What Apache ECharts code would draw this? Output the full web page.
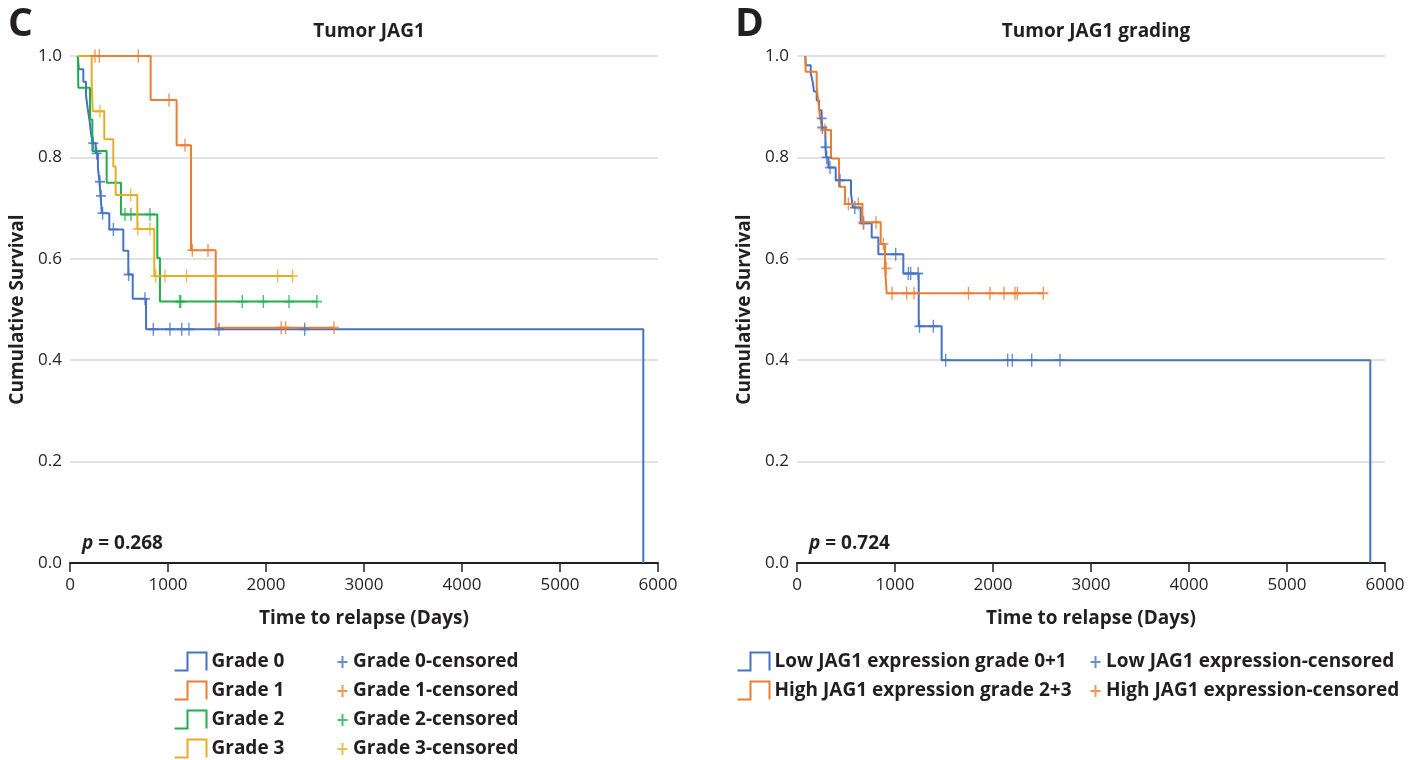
<!DOCTYPE html>
<html><head><meta charset="utf-8">
<script src="https://cdn.jsdelivr.net/npm/echarts@6/dist/echarts.min.js"></script>
<style>html,body{margin:0;padding:0;background:#fff}#c{width:1423px;height:760px}</style>
</head><body><div id="c"></div>
<script>
// ---------- DATA ----------
const xTicks = [0, 1000, 2000, 3000, 4000, 5000, 6000];
// Panel C: Tumor JAG1
const g0Time = [80, 90, 136, 163, 180, 200, 215, 232, 262, 285, 300, 312, 325, 401, 544, 595, 640, 776, 5850];
const g0Surv = [1.0, 0.974, 0.949, 0.923, 0.897, 0.872, 0.846, 0.828, 0.808, 0.780, 0.752, 0.724, 0.690, 0.658, 0.616, 0.569, 0.521, 0.461, 0.0];
const g0Cens = [238, 272, 306, 316, 333, 442, 598, 765, 850, 1020, 1140, 1214, 1520, 2395];
const g1Time = [200, 823, 1088, 1235, 1487, 2694];
const g1Surv = [1.0, 0.913, 0.824, 0.617, 0.464, 0.464];
const g1Cens = [255, 299, 697, 1010, 1173, 1248, 1408, 2155, 2200, 2694];
const g2Time = [80, 85, 204, 228, 374, 520, 891, 918, 2520];
const g2Surv = [1.0, 0.9375, 0.875, 0.8125, 0.75, 0.6875, 0.6016, 0.5156, 0.5156];
const g2Cens = [561, 622, 816, 1118, 1130, 1758, 1973, 2235, 2520];
const g3Time = [80, 221, 232, 350, 442, 466, 687, 860, 2272];
const g3Surv = [1.0, 0.946, 0.891, 0.836, 0.782, 0.726, 0.659, 0.566, 0.566];
const g3Cens = [306, 619, 692, 816, 875, 969, 1190, 2119, 2272];
// Panel D: Tumor JAG1 grading
const lowTime = [85, 89, 140, 160, 173, 201, 225, 250, 255, 290, 298, 320, 395, 551, 570, 650, 762, 830, 1085, 1242, 1476, 5850];
const lowSurv = [1.0, 0.982, 0.966, 0.949, 0.930, 0.912, 0.893, 0.877, 0.859, 0.820, 0.800, 0.780, 0.755, 0.729, 0.701, 0.670, 0.642, 0.609, 0.571, 0.467, 0.400, 0.0];
const lowCens = [252, 258, 293, 303, 337, 439, 590, 680, 1007, 1136, 1160, 1236, 1250, 1391, 1517, 2150, 2197, 2395, 2684];
const highTime = [85, 89, 201, 218, 232, 245, 255, 347, 429, 490, 667, 854, 898, 915, 2513];
const highSurv = [1.0, 0.969, 0.939, 0.909, 0.884, 0.869, 0.854, 0.798, 0.742, 0.708, 0.672, 0.629, 0.581, 0.532, 0.532];
const highCens = [286, 524, 626, 677, 806, 881, 910, 970, 1119, 1194, 1750, 1969, 2112, 2224, 2248, 2513];

const namesC = ['Grade 0', 'Grade 1', 'Grade 2', 'Grade 3'];
const censNamesC = ['Grade 0-censored', 'Grade 1-censored', 'Grade 2-censored', 'Grade 3-censored'];
const namesD = ['Low JAG1 expression grade 0+1', 'High JAG1 expression grade 2+3'];
const censNamesD = ['Low JAG1 expression-censored', 'High JAG1 expression-censored'];

// ---------- STYLE ----------
const COLORS = ['#4472C4', '#ED7D31', '#22AE4B', '#E6AE24'];
const FONT = '"Open Sans", sans-serif';
const TXT = '#231F20';
const STEP_ICON = 'path://M0,18 L13,18 L13,0 L32,0 L32,18';
const PLUS = 'path://M5,0 L5,12 M0,6 L10,6';

function pairs(t, s) { return t.map((v, i) => [v, s[i]]); }
function survAt(t, s, x) { let v = s[0]; for (let i = 0; i < t.length; i++) { if (t[i] <= x) v = s[i]; } return v; }
function censPts(t, s, c) { return c.map(x => [x, survAt(t, s, x)]); }

function lineSeries(name, t, s, color, idx) {
  return { type: 'line', name, xAxisIndex: idx, yAxisIndex: idx, step: 'end', showSymbol: false, symbol: 'none',
    data: pairs(t, s), lineStyle: { color, width: 2 }, itemStyle: { color }, z: 3 };
}
function censSeries(name, t, s, c, color, idx) {
  return { type: 'scatter', name, xAxisIndex: idx, yAxisIndex: idx, symbol: PLUS, symbolSize: [10, 13],
    data: censPts(t, s, c), itemStyle: { color: 'none', borderColor: color, borderWidth: 1.6 }, z: 4 };
}

const grids = [
  { left: 70, right: 765, top: 56, bottom: 197 },
  { left: 797, right: 38, top: 56, bottom: 197 }
];
function xAx(i) {
  return { type: 'value', gridIndex: i, min: 0, max: 6000, interval: 1000,
    name: 'Time to relapse (Days)', nameLocation: 'middle', nameGap: 46,
    nameTextStyle: { fontFamily: FONT, fontWeight: 'bold', fontSize: 19, color: TXT },
    axisLine: { lineStyle: { color: '#231F20', width: 2 } },
    axisTick: { inside: false, length: 9, lineStyle: { color: '#231F20', width: 1.5 } },
    axisLabel: { fontFamily: FONT, fontSize: 17, color: TXT, margin: 14, formatter: v => String(v) },
    splitLine: { show: false } };
}
function yAx(i) {
  return { type: 'value', gridIndex: i, min: 0, max: 1, interval: 0.2,
    name: 'Cumulative Survival', nameLocation: 'middle', nameGap: 43, nameRotate: 90,
    nameTextStyle: { fontFamily: FONT, fontWeight: 'bold', fontSize: 19, color: TXT },
    axisLine: { show: false }, axisTick: { show: false },
    axisLabel: { fontFamily: FONT, fontSize: 17, color: TXT, margin: 8, formatter: v => v.toFixed(1) },
    splitLine: { show: true, lineStyle: { color: '#D9D9D9', width: 1.5 } } };
}

const series = [
  lineSeries(namesC[0], g0Time, g0Surv, COLORS[0], 0),
  lineSeries(namesC[1], g1Time, g1Surv, COLORS[1], 0),
  lineSeries(namesC[2], g2Time, g2Surv, COLORS[2], 0),
  lineSeries(namesC[3], g3Time, g3Surv, COLORS[3], 0),
  censSeries(censNamesC[0], g0Time, g0Surv, g0Cens, COLORS[0], 0),
  censSeries(censNamesC[1], g1Time, g1Surv, g1Cens, COLORS[1], 0),
  censSeries(censNamesC[2], g2Time, g2Surv, g2Cens, COLORS[2], 0),
  censSeries(censNamesC[3], g3Time, g3Surv, g3Cens, COLORS[3], 0),
  lineSeries(namesD[0], lowTime, lowSurv, COLORS[0], 1),
  lineSeries(namesD[1], highTime, highSurv, COLORS[1], 1),
  censSeries(censNamesD[0], lowTime, lowSurv, lowCens, COLORS[0], 1),
  censSeries(censNamesD[1], highTime, highSurv, highCens, COLORS[1], 1)
];

const legText = { fontFamily: FONT, fontWeight: 'bold', fontSize: 19, color: TXT, lineHeight: 20 };
function stepLeg(names, left, top) {
  return { orient: 'vertical', left, top, height: 200, padding: 0, itemWidth: 32, itemHeight: 18, itemGap: 6, icon: STEP_ICON,
    textStyle: legText, selectedMode: false,
    data: names.map((n, i) => ({ name: n, itemStyle: { color: 'none', borderColor: COLORS[i], borderWidth: 2 } })) };
}
function plusLeg(names, left, top) {
  return { orient: 'vertical', left, top, height: 200, padding: 0, itemWidth: 11, itemHeight: 12, itemGap: 9, icon: PLUS,
    textStyle: legText, selectedMode: false,
    data: names.map((n, i) => ({ name: n, itemStyle: { color: 'none', borderColor: COLORS[i], borderWidth: 2 } })) };
}

const option = {
  animation: false,
  backgroundColor: '#fff',
  grid: grids,
  xAxis: [xAx(0), xAx(1)],
  yAxis: [yAx(0), yAx(1)],
  title: [
    { text: 'Tumor JAG1', left: 364, top: 17, textAlign: 'center', textStyle: { fontFamily: FONT, fontWeight: 'bold', fontSize: 19, color: TXT } },
    { text: 'Tumor JAG1 grading', left: 1091, top: 17, textAlign: 'center', textStyle: { fontFamily: FONT, fontWeight: 'bold', fontSize: 19, color: TXT } },
    { text: 'C', left: 3, top: 0, textStyle: { fontFamily: FONT, fontWeight: 'bold', fontSize: 39, color: TXT } },
    { text: 'D', left: 730, top: 0, textStyle: { fontFamily: FONT, fontWeight: 'bold', fontSize: 39, color: TXT } }
  ],
  legend: [
    stepLeg(namesC, 172, 650),
    plusLeg(censNamesC, 335, 652),
    stepLeg(namesD, 735, 650),
    plusLeg(censNamesD, 1088, 652)
  ],
  graphic: [
    { type: 'text', left: 82, top: 534, style: { rich: { i: { fontStyle: 'italic', fontWeight: 'bold', fontSize: 19, fontFamily: FONT, fill: TXT }, b: { fontWeight: 'bold', fontSize: 19, fontFamily: FONT, fill: TXT } }, text: '{i|p}{b| = 0.268}' } },
    { type: 'text', left: 809, top: 534, style: { rich: { i: { fontStyle: 'italic', fontWeight: 'bold', fontSize: 19, fontFamily: FONT, fill: TXT }, b: { fontWeight: 'bold', fontSize: 19, fontFamily: FONT, fill: TXT } }, text: '{i|p}{b| = 0.724}' } }
  ],
  series
};
const chart = echarts.init(document.getElementById('c'), null, { renderer: 'canvas' });
chart.setOption(option);
</script></body></html>
